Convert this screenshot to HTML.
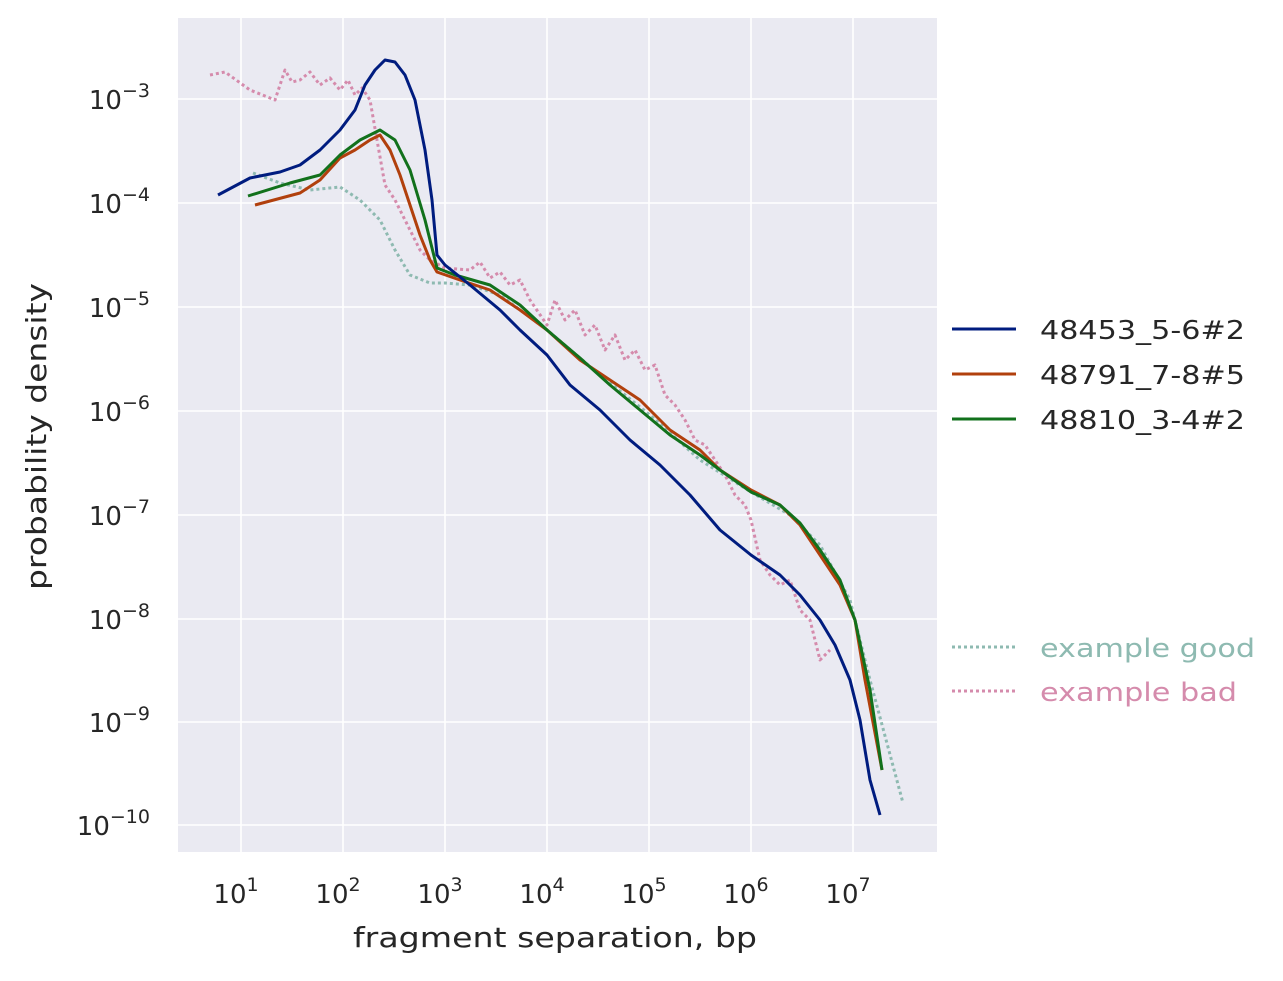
<!DOCTYPE html>
<html><head><style>body{margin:0;background:#fff}svg text{font-family:"DejaVu Sans","Liberation Sans",sans-serif;fill:#262626}</style></head>
<body>
<svg width="1283" height="976" xmlns="http://www.w3.org/2000/svg">
<rect x="178" y="18" width="759" height="834" fill="#EAEAF2"/>
<g stroke="#fff" stroke-width="1.6">
<line x1="241" y1="18" x2="241" y2="852"/><line x1="343" y1="18" x2="343" y2="852"/><line x1="445" y1="18" x2="445" y2="852"/><line x1="547" y1="18" x2="547" y2="852"/><line x1="649" y1="18" x2="649" y2="852"/><line x1="751" y1="18" x2="751" y2="852"/><line x1="853" y1="18" x2="853" y2="852"/>
<line x1="178" y1="99" x2="937" y2="99"/><line x1="178" y1="203" x2="937" y2="203"/><line x1="178" y1="307" x2="937" y2="307"/><line x1="178" y1="411" x2="937" y2="411"/><line x1="178" y1="515" x2="937" y2="515"/><line x1="178" y1="619" x2="937" y2="619"/><line x1="178" y1="722" x2="937" y2="722"/><line x1="178" y1="825" x2="937" y2="825"/>
</g>
<g font-size="26" text-anchor="middle">
<text x="236" y="903">10<tspan font-size="19" dy="-12">1</tspan></text>
<text x="338" y="903">10<tspan font-size="19" dy="-12">2</tspan></text>
<text x="440" y="903">10<tspan font-size="19" dy="-12">3</tspan></text>
<text x="542" y="903">10<tspan font-size="19" dy="-12">4</tspan></text>
<text x="644" y="903">10<tspan font-size="19" dy="-12">5</tspan></text>
<text x="746" y="903">10<tspan font-size="19" dy="-12">6</tspan></text>
<text x="848" y="903">10<tspan font-size="19" dy="-12">7</tspan></text>
</g>
<g font-size="26" text-anchor="end">
<text x="150" y="109">10<tspan font-size="19" dy="-12">−3</tspan></text>
<text x="150" y="213">10<tspan font-size="19" dy="-12">−4</tspan></text>
<text x="150" y="317">10<tspan font-size="19" dy="-12">−5</tspan></text>
<text x="150" y="421">10<tspan font-size="19" dy="-12">−6</tspan></text>
<text x="150" y="525">10<tspan font-size="19" dy="-12">−7</tspan></text>
<text x="150" y="629">10<tspan font-size="19" dy="-12">−8</tspan></text>
<text x="150" y="732">10<tspan font-size="19" dy="-12">−9</tspan></text>
<text x="150" y="835">10<tspan font-size="19" dy="-12">−10</tspan></text>
</g>
<text x="353" y="947" font-size="28" textLength="404" lengthAdjust="spacingAndGlyphs">fragment separation, bp</text>
<text transform="translate(46,590) rotate(-90)" font-size="28" textLength="307" lengthAdjust="spacingAndGlyphs">probability density</text>
<g fill="none" stroke-width="3" stroke-linejoin="round">
<polyline stroke="#8EBAB1" stroke-dasharray="3,3" points="253,173 280,183 310,190 340,187 360,200 380,220 395,250 410,275 430,283 445,283 470,285 500,295 547,330 600,375 650,415 700,460 751,492 790,515 820,545 850,600 870,680 903,803"/>
<polyline stroke="#D58BAC" stroke-dasharray="3,3" points="210,75 225,72 250,90 275,100 285,70 292,82 300,80 310,72 320,85 330,78 340,90 348,80 355,95 362,88 370,100 377,140 385,185 395,200 410,230 420,250 430,260 445,268 470,270 480,262 490,278 500,272 510,285 520,280 530,300 547,325 555,300 565,320 575,310 585,335 595,325 605,350 615,335 625,360 635,350 645,370 655,365 665,395 675,405 685,420 695,440 705,445 715,460 725,475 735,495 745,505 751,520 760,560 770,575 780,585 790,580 800,610 810,620 820,660 830,650"/>
<polyline stroke="#B1400D" points="255,205 300,193 320,180 340,158 355,150 370,140 380,135 390,150 400,175 410,205 420,235 430,260 437,272 460,280 490,290 520,310 547,330 580,360 610,380 640,400 670,430 700,450 720,470 751,490 780,505 800,525 820,555 840,585 855,620 865,680 882,770"/>
<polyline stroke="#12711C" points="248,196 290,183 320,175 340,155 360,140 380,130 395,140 410,170 425,220 437,268 455,275 490,285 520,305 547,330 580,358 610,385 640,410 670,435 700,455 720,470 751,492 780,505 800,523 820,550 840,580 855,620 870,690 882,770"/>
<polyline stroke="#001C7F" points="218,195 250,178 280,172 300,165 320,150 340,130 355,110 365,85 375,70 385,60 395,62 405,75 415,100 425,150 432,200 437,255 445,265 470,285 500,310 520,330 547,355 570,385 600,410 630,440 660,465 690,495 720,530 751,555 780,575 800,595 820,620 835,645 850,680 860,720 870,780 880,815"/>
<line x1="952" y1="329" x2="1016" y2="329" stroke="#001C7F"/>
<line x1="952" y1="374" x2="1016" y2="374" stroke="#B1400D"/>
<line x1="952" y1="419" x2="1016" y2="419" stroke="#12711C"/>
<line x1="952" y1="647" x2="1016" y2="647" stroke="#8EBAB1" stroke-dasharray="3,3"/>
<line x1="952" y1="691" x2="1016" y2="691" stroke="#D58BAC" stroke-dasharray="3,3"/>
</g>
<g font-size="26">
<text x="1040" y="339" textLength="205" lengthAdjust="spacingAndGlyphs">48453_5-6#2</text>
<text x="1040" y="384" textLength="205" lengthAdjust="spacingAndGlyphs">48791_7-8#5</text>
<text x="1040" y="429" textLength="205" lengthAdjust="spacingAndGlyphs">48810_3-4#2</text>
<text x="1040" y="657" textLength="215" lengthAdjust="spacingAndGlyphs" style="fill:#8EBAB1">example good</text>
<text x="1040" y="701" textLength="197" lengthAdjust="spacingAndGlyphs" style="fill:#D58BAC">example bad</text>
</g>
</svg>
</body></html>
